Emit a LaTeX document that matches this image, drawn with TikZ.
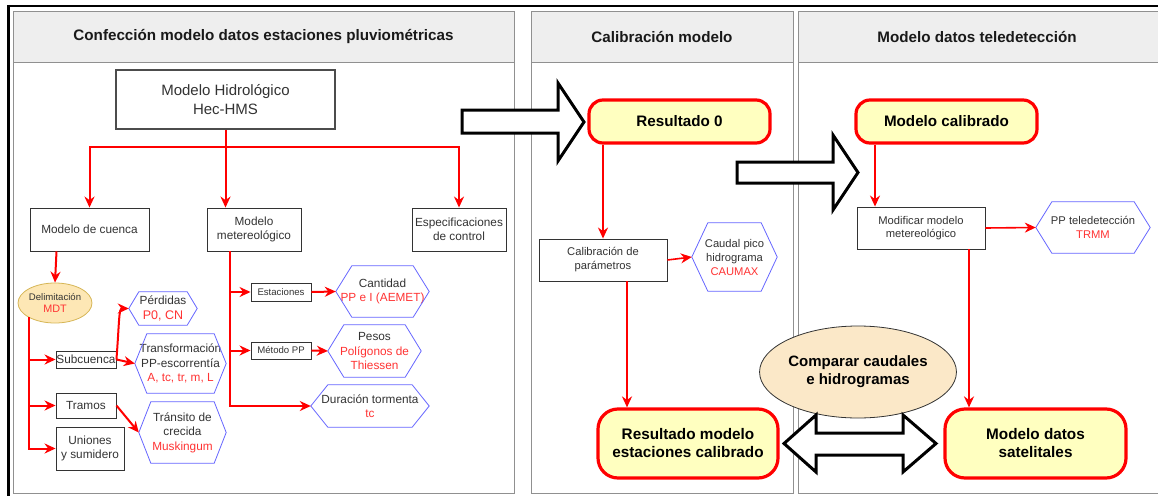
\documentclass[tikz,border=0pt]{standalone}
\usepackage{fontspec}
\setmainfont{Liberation Sans}
\usetikzlibrary{arrows.meta,calc,shapes.geometric}
\definecolor{hdr}{HTML}{EEEEEE}
\definecolor{lanec}{HTML}{909090}
\definecolor{txt}{HTML}{333333}
\definecolor{rtxt}{HTML}{FF3333}
\definecolor{hexc}{HTML}{6666FF}
\definecolor{yel}{HTML}{FFFFC0}
\definecolor{delimf}{HTML}{FDE7B5}
\definecolor{delimd}{HTML}{D6B656}
\definecolor{compf}{HTML}{FBE8C8}
\newcommand\hexof[2]{\draw[hexline] (#1.west) -- ([xshift=#2]#1.north west) -- ([xshift=-#2]#1.north east) -- (#1.east) -- ([xshift=-#2]#1.south east) -- ([xshift=#2]#1.south west) -- cycle;}
\newcommand\rt[1]{{\color{rtxt}#1}}
\tikzset{
 box/.style={draw=txt, line width=0.9pt, fill=white, text=txt, align=center, inner sep=0pt, font=\fontsize{11.8}{14}\selectfont},
 smallbox/.style={box, font=\fontsize{9.6}{11}\selectfont},
 hexn/.style={draw=none, align=center, text=txt, inner sep=0pt, font=\fontsize{11.8}{14.5}\selectfont},
 hexline/.style={draw=hexc, line width=0.8pt},
 res/.style={draw=red, line width=3.2pt, fill=yel, rounded corners=14pt, align=center, inner sep=0pt, font=\bfseries\fontsize{15.2}{18}\selectfont, text=black},
 bigres/.style={res, rounded corners=20pt, font=\bfseries\fontsize{15.3}{18}\selectfont},
 redarr/.style={draw=red, line width=2pt, -{Stealth[length=11pt,width=10pt]}},
 blockarr/.style={draw=black, line width=3pt, fill=white, line join=miter},
 lane/.style={draw=lanec, line width=0.8pt},
 title/.style={font=\bfseries\fontsize{15.2}{16}\selectfont, text=black!90},
}
\begin{document}
\begin{tikzpicture}[x=1pt,y=-1pt]
\useasboundingbox (0,0) rectangle (1158,495);
\fill[white] (0,0) rectangle (1158,495);
% lanes
\draw[lane, fill=hdr] (13,11) rectangle (514,62);
\draw[lane] (13,11) rectangle (514,493);
\draw[lane, fill=hdr] (531,11) rectangle (793,62);
\draw[lane] (531,11) rectangle (793,493);
\draw[lane, fill=hdr] (798,11) rectangle (1165,62);
\draw[lane] (798,11) rectangle (1165,493);
\draw[black, line width=2pt] (7,6) -- (1160,6);
\draw[black, line width=3pt] (8.5,5) -- (8.5,500);
\node[title] (t1) at (263.5,37) {Confección modelo datos estaciones pluviométricas};
\node[title] (t2) at (662,37) {Calibración modelo};
\node[title] (t3) at (977,37) {Modelo datos teledetección};

% lane 1 boxes
\node[box, draw=black!70, line width=1.6pt, minimum width=219, minimum height=59, font=\fontsize{15}{19}\selectfont] (hms) at (225.5,99.5) {Modelo Hidrológico\\Hec-HMS};
\node[box, minimum width=119, minimum height=43] (cuenca) at (89.5,229.5) {Modelo de cuenca};
\node[box, minimum width=94, minimum height=43] (meteo) at (254,229.5) {Modelo\\metereológico};
\node[box, minimum width=94, minimum height=43] (espec) at (459,229.5) {Especificaciones\\de control};
\node[ellipse, draw=delimd, fill=delimf, line width=0.8pt, minimum width=66, minimum height=40, inner sep=0pt, align=center, font=\fontsize{9.6}{12.3}\selectfont, text=txt] (delim) at (55,303) {Delimitación\\{\fontsize{10.8}{12.3}\selectfont\rt{MDT}}};
\node[box, minimum width=60, minimum height=17] (sub) at (86,359.5) {Subcuenca};
\node[box, minimum width=60, minimum height=25] (tramos) at (86,405.5) {Tramos};
\node[box, minimum width=68, minimum height=43, font=\fontsize{11.8}{13.3}\selectfont] (uniones) at (90,448.5) {Uniones\\y sumidero};
\node[smallbox, minimum width=60, minimum height=18] (estac) at (281,292) {Estaciones};
\node[smallbox, minimum width=60, minimum height=17] (metodo) at (281,350.5) {Método PP};

% lane 1 hexagons
\node[hexn, minimum width=68, minimum height=33] (perd) at (163,308.5) {Pérdidas\\{\fontsize{12.5}{14.5}\selectfont\rt{P0, CN}}};
\hexof{perd}{10}
\node[hexn, minimum width=91, minimum height=59] (trans) at (180.5,363.5) {Transformación\\PP-escorrentía\\\rt{A, tc, tr, m, L}};
\hexof{trans}{12}
\node[hexn, minimum width=87, minimum height=61] (transito) at (182.5,432.5) {Tránsito de\\crecida\\\rt{Muskingum}};
\hexof{transito}{12}
\node[hexn, minimum width=93, minimum height=51] (cant) at (382.5,291.5) {Cantidad\\\rt{PP e I (AEMET)}};
\hexof{cant}{16}
\node[hexn, minimum width=93, minimum height=52] (pesos) at (374.5,351) {Pesos\\\rt{Polígonos de}\\\rt{Thiessen}};
\hexof{pesos}{16}
\node[hexn, minimum width=118, minimum height=42] (dur) at (370,406) {Duración tormenta\\\rt{tc}};
\hexof{dur}{17}

% lane 1 connectors
\draw[redarr] (hms.south) -- (hms.south |- 0,147) -| (cuenca.north);
\draw[redarr] (hms.south) -- (hms.south |- meteo.north);
\draw[redarr] (hms.south) -- (hms.south |- 0,147) -| (espec.north);
\draw[redarr] ([xshift=-33]cuenca.south) -- (delim.north);
\draw[redarr] (delim.south west) |- (sub.west);
\draw[redarr] (delim.south west) |- (tramos.west);
\draw[redarr] (delim.south west) |- (uniones.west);
\draw[redarr] (sub.east) .. controls +(3,-40) and +(-10,0) .. (perd.west);
\draw[redarr] (sub.east) -- (trans.west);
\draw[redarr] (tramos.east) -- (transito.west);
\draw[redarr] ([xshift=-24]meteo.south) |- (estac.west);
\draw[redarr] ([xshift=-24]meteo.south) |- (metodo.west);
\draw[redarr] ([xshift=-24]meteo.south) |- (dur.west);
\draw[redarr] (estac.east) -- (cant.west);
\draw[redarr] (metodo.east) -- (pesos.west);

% lane 2
\node[res, minimum width=181, minimum height=43] (res0) at (679.5,121.5) {Resultado 0};
\node[box, minimum width=128, minimum height=42, font=\fontsize{11.2}{14}\selectfont] (calib) at (603,260) {Calibración de\\parámetros};
\node[hexn, minimum width=85, minimum height=68, font=\fontsize{11.2}{14}\selectfont] (caudal) at (734.5,257) {Caudal pico\\hidrograma\\\rt{CAUMAX}};
\hexof{caudal}{16}
\node[bigres, minimum width=180, minimum height=69] (resm) at (688,443.5) {Resultado modelo\\estaciones calibrado};
\draw[redarr, line width=2.4pt] (calib.north |- res0.south) -- (calib.north);
\draw[redarr, line width=1.6pt] (calib.east) -- (caudal.west);
\draw[redarr, line width=2.4pt] ([xshift=24]calib.south) -- ([xshift=24]calib.south |- resm.north);

% lane 3
\node[res, minimum width=181, minimum height=43] (modcal) at (946.5,121.5) {Modelo calibrado};
\node[box, minimum width=128, minimum height=42, font=\fontsize{11.2}{13.5}\selectfont] (modif) at (921,228) {Modificar modelo\\metereológico};
\node[hexn, minimum width=114, minimum height=51, font=\fontsize{11.2}{13.5}\selectfont] (pp) at (1093,227.5) {PP teledetección\\\rt{TRMM}};
\hexof{pp}{16}
\node[bigres, minimum width=181, minimum height=69] (sat) at (1035.5,443.5) {Modelo datos\\satelitales};
\node[ellipse, draw=black!80, fill=compf, line width=0.8pt, minimum width=151, minimum height=92, inner sep=0pt, align=center, font=\bfseries\fontsize{15}{18}\selectfont] (comp) at (858,372) {Comparar caudales\\e hidrogramas};
\draw[redarr, line width=2.4pt] ([xshift=-46]modif.north |- modcal.south) -- ([xshift=-46]modif.north);
\draw[redarr, line width=1.6pt] (modif.east) -- (pp.west);
\draw[redarr, line width=2.4pt] ([xshift=48]modif.south) -- ([xshift=48]modif.south |- sat.north);

% block arrows
\draw[blockarr] (462,110) -- (558,110) -- (558,83) -- (584,122) -- (558,161) -- (558,133) -- (462,133) -- cycle;
\draw[blockarr] (737,162) -- (833,162) -- (833,135) -- (858,172.5) -- (833,210) -- (833,183) -- (737,183) -- cycle;
\draw[blockarr] (784,443.5) -- (816,415) -- (816,433) -- (903,433) -- (903,415) -- (936,443.5) -- (903,472) -- (903,455) -- (816,455) -- (816,472) -- cycle;
\end{tikzpicture}
\end{document}
